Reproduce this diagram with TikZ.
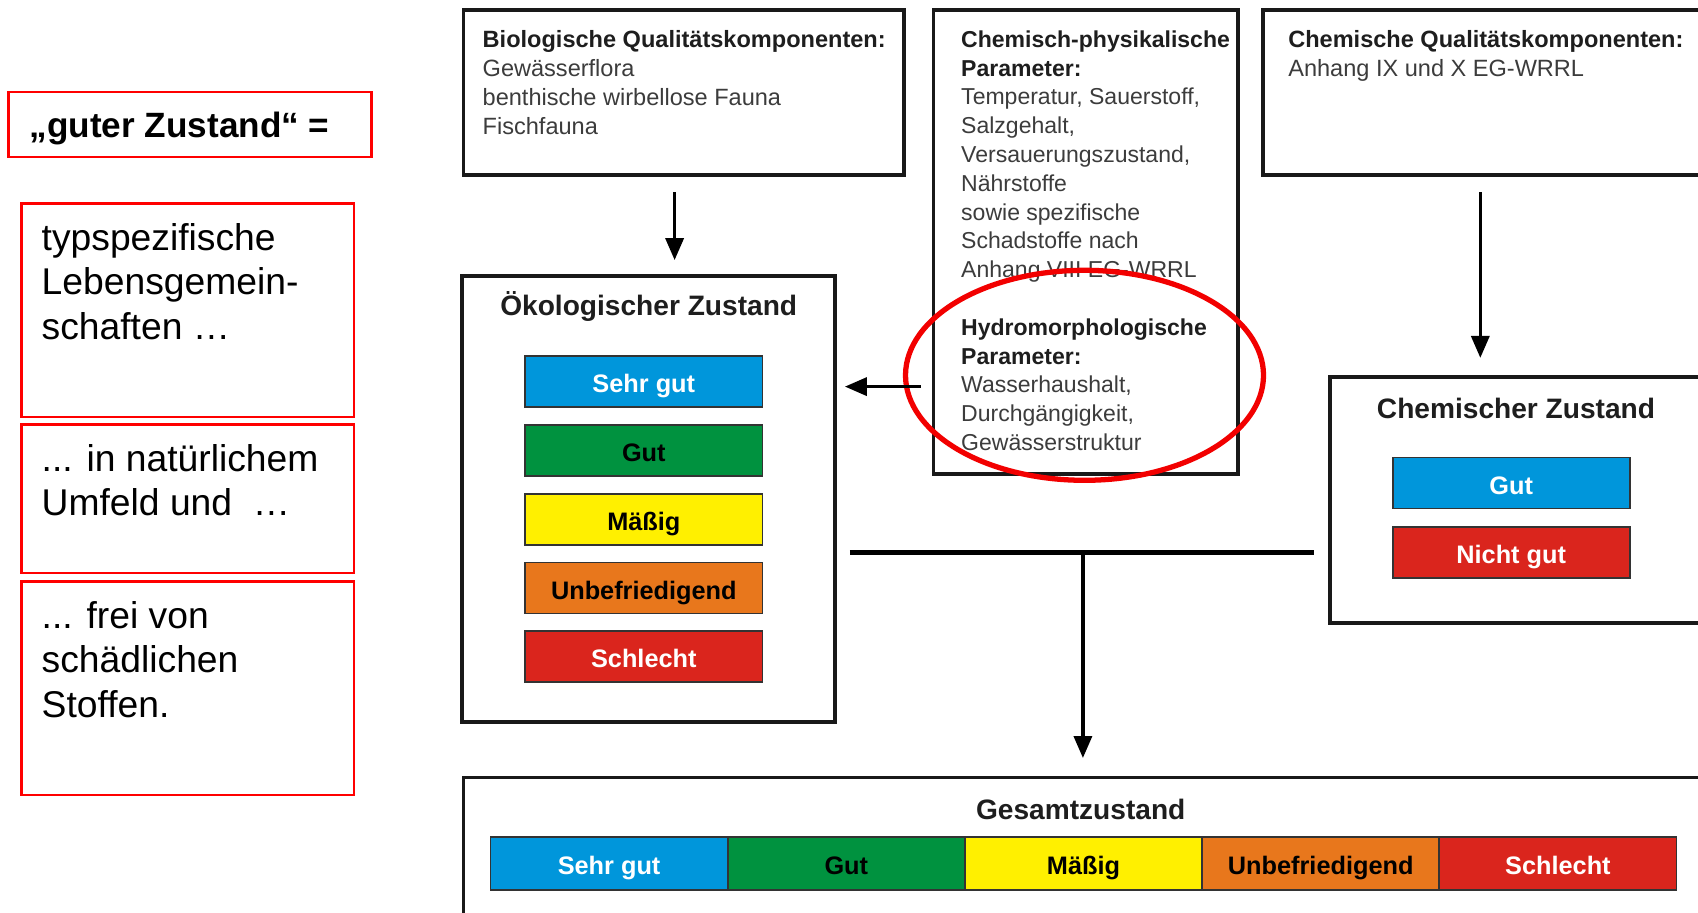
\documentclass[tikz,border=0pt]{standalone}
\usepackage{fontspec}
\setmainfont{Liberation Sans}
\usetikzlibrary{arrows.meta}
\definecolor{lblue}{RGB}{0,150,219}
\definecolor{lgreen}{RGB}{0,146,63}
\definecolor{lyellow}{RGB}{255,240,0}
\definecolor{lorange}{RGB}{232,119,28}
\definecolor{lred}{RGB}{218,37,29}
\definecolor{bodygray}{RGB}{60,60,60}
\definecolor{headblack}{RGB}{30,30,30}
\newcommand{\headtxt}[1]{{\color{headblack}\bfseries #1}}

\begin{document}
\begin{tikzpicture}[
	frame/.style={draw=black!90, line width=1.1pt, anchor=north west, inner sep=0pt, outer sep=0pt},
	redframe/.style={draw=red, line width=0.7pt, anchor=north west, inner sep=0pt, outer sep=0pt},
	bigtext/.style={anchor=north west, inner sep=0pt, align=left, font=\fontsize{10.6}{12.75}\selectfont},
	smalltext/.style={anchor=north west, inner sep=0pt, align=left, text=bodygray, font=\fontsize{6.7}{8.19}\selectfont},
	heading/.style={font=\bfseries\fontsize{8}{9.6}\selectfont, text=headblack, inner sep=0pt},
	bar/.style={draw=black!80, line width=0.5pt, minimum width=2.372cm, minimum height=0.51cm, inner sep=0pt, text height=6.3pt, text depth=0pt, font=\bfseries\fontsize{7.2}{8.6}\selectfont},
	arr/.style={line width=1pt, -{Triangle[length=0.22cm, width=0.18cm]}}
]
	\useasboundingbox[fill=white] (0,0) rectangle (16.98,-9.12);
	%%%%%%%%%%%%% left side
	\node[redframe, minimum width=3.627cm, minimum height=0.65cm] (guter) at (0.087,-0.92) {};
	\node[anchor=base west, inner sep=0pt, font=\bfseries\fontsize{10}{12}\selectfont] (guter-txt) at (0.29,-1.37) {„guter Zustand“ =};
	\node[redframe, minimum width=3.324cm, minimum height=2.133cm] (typ) at (0.217,-2.036) {};
	\node[bigtext] (typ-txt) at (0.41,-2.223) {typspezifische\\Lebensgemein-\\schaften \dots};
	\node[redframe, minimum width=3.324cm, minimum height=1.484cm] (umfeld) at (0.217,-4.245) {};
	\node[bigtext] (umfeld-txt) at (0.41,-4.433) {... in natürlichem\\Umfeld und~~\dots};
	\node[redframe, minimum width=3.324cm, minimum height=2.133cm] (frei) at (0.217,-5.815) {};
	\node[bigtext] (frei-txt) at (0.41,-6.003) {... frei von\\schädlichen\\Stoffen.};
	%%%%%%%%%%%%% top boxes
	\node[frame, minimum width=4.407cm, minimum height=1.657cm] (bio) at (4.635,-0.097) {};
	\node[smalltext] (bio-txt) at (4.82,-0.30) {\headtxt{Biologische Qualitätskomponenten:}\\Gewässerflora\\benthische wirbellose Fauna\\Fischfauna};
	\node[frame, minimum width=3.043cm, minimum height=4.646cm] (chemphys) at (9.335,-0.097) {};
	\node[smalltext, font=\fontsize{6.55}{8.19}\selectfont] (chemphys-txt) at (9.605,-0.30) {\headtxt{Chemisch-physikalische}\\\headtxt{Parameter:}\\Temperatur, Sauerstoff,\\Salzgehalt,\\Versauerungszustand,\\Nährstoffe\\sowie spezifische\\Schadstoffe nach\\Anhang VIII EG-WRRL\\[8.19pt]\headtxt{Hydromorphologische}\\\headtxt{Parameter:}\\Wasserhaushalt,\\Durchgängigkeit,\\Gewässerstruktur};
	\node[frame, minimum width=4.423cm, minimum height=1.657cm] (chemq) at (12.627,-0.097) {};
	\node[smalltext] (chemq-txt) at (12.876,-0.30) {\headtxt{Chemische Qualitätskomponenten:}\\Anhang IX und X EG-WRRL};
	\draw[draw=red!95!black, line width=1.5pt] (10.845,-3.753) ellipse [x radius=1.79, y radius=1.05];
	%%%%%%%%%%%%% oekologischer Zustand
	\node[frame, minimum width=3.725cm, minimum height=4.462cm] (oeko) at (4.624,-2.761) {};
	\node[heading] (oeko-title) at (6.487,-3.065) {Ökologischer Zustand};
	\node[bar, fill=lblue, text=white] (oeko-sehrgut) at (6.438,-3.817) {Sehr gut};
	\node[bar, fill=lgreen, text=black] (oeko-gut) at (6.438,-4.505) {Gut};
	\node[bar, fill=lyellow, text=black] (oeko-maessig) at (6.438,-5.192) {Mäßig};
	\node[bar, fill=lorange, text=black] (oeko-unbefr) at (6.438,-5.880) {Unbefriedigend};
	\node[bar, fill=lred, text=white] (oeko-schlecht) at (6.438,-6.568) {Schlecht};
	%%%%%%%%%%%%% chemischer Zustand
	\node[frame, minimum width=3.752cm, minimum height=2.458cm] (chemz) at (13.298,-3.769) {};
	\node[heading] (chemz-title) at (15.16,-4.083) {Chemischer Zustand};
	\node[bar, fill=lblue, text=white] (chemz-gut) at (15.112,-4.83) {Gut};
	\node[bar, fill=lred, text=white] (chemz-nichtgut) at (15.112,-5.523) {Nicht gut};
	%%%%%%%%%%%%% Gesamtzustand
	\node[frame, minimum width=12.415cm, minimum height=1.6cm] (gesamt) at (4.635,-7.775) {};
	\node[heading] (gesamt-title) at (10.807,-8.09) {Gesamtzustand};
	\node[bar, minimum height=0.53cm, fill=lblue, text=white] (ges-sehrgut) at (6.091,-8.635) {Sehr gut};
	\node[bar, minimum height=0.53cm, fill=lgreen, text=black] (ges-gut) at (8.463,-8.635) {Gut};
	\node[bar, minimum height=0.53cm, fill=lyellow, text=black] (ges-maessig) at (10.835,-8.635) {Mäßig};
	\node[bar, minimum height=0.53cm, fill=lorange, text=black] (ges-unbefr) at (13.207,-8.635) {Unbefriedigend};
	\node[bar, minimum height=0.53cm, fill=lred, text=white] (ges-schlecht) at (15.579,-8.635) {Schlecht};
	%%%%%%%%%%%%% connectors
	\coordinate (arrbio) at (6.746,0);
	\coordinate (arrchem) at (14.803,0);
	\coordinate (arrhydro) at (0,-3.866);
	\coordinate (join) at (10.829,-5.523);
	\draw[arr, shorten <=0.17cm, shorten >=0.16cm] (bio.south -| arrbio) -- (oeko.north -| arrbio);
	\draw[arr, shorten <=0.17cm, shorten >=0.19cm] (chemq.south -| arrchem) -- (chemz.north -| arrchem);
	\draw[arr, shorten <=0.13cm, shorten >=0.10cm] (chemphys.west |- arrhydro) -- (oeko.east |- arrhydro);
	\draw[line width=1.3pt, shorten <=0.15cm, shorten >=0.16cm] (oeko.east |- join) -- (chemz.west |- join);
	\draw[arr, shorten >=0.195cm] (join) -- (join |- gesamt.north);
\end{tikzpicture}
\end{document}
